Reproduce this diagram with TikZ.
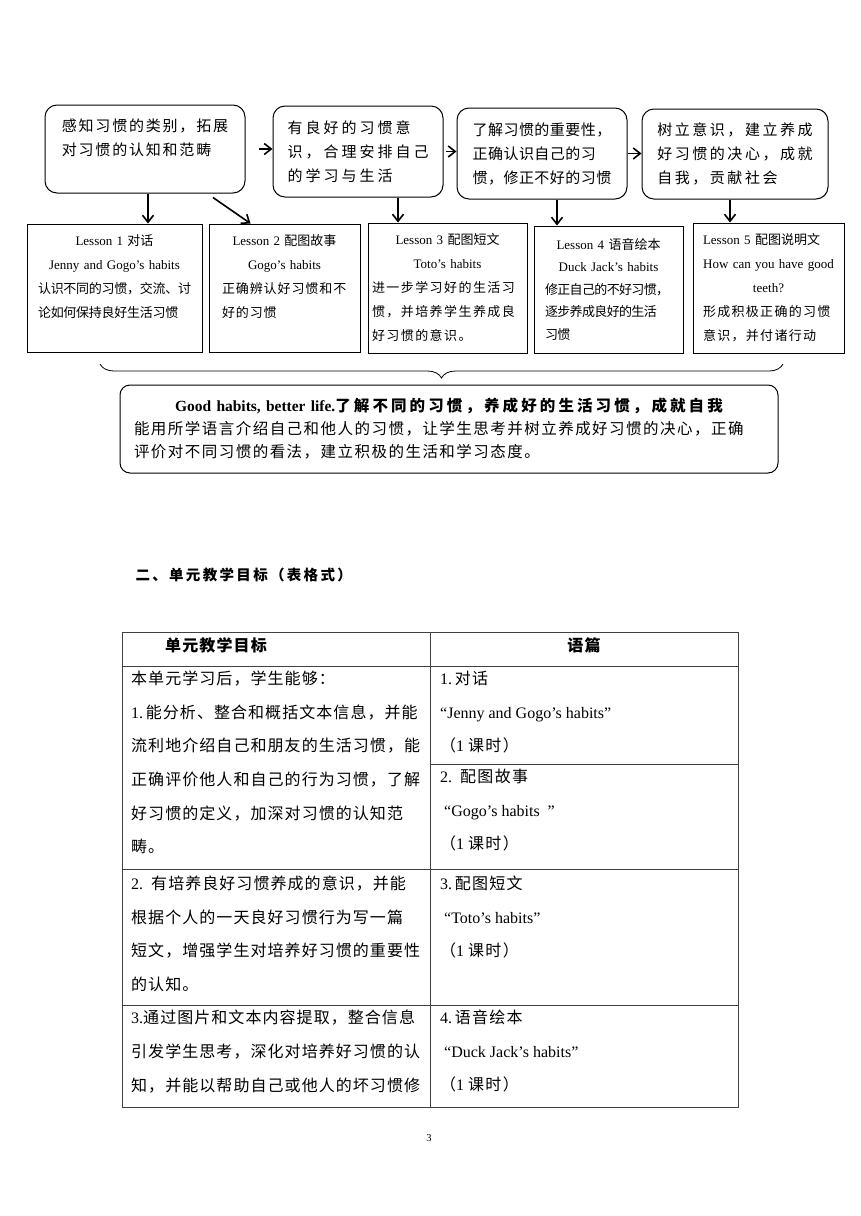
\documentclass[tikz,border=0pt]{standalone}
\usepackage{fontspec}
\setmainfont{Liberation Serif}
\newfontfamily\cjk{Noto Sans CJK SC}
\usetikzlibrary{arrows.meta, positioning, decorations.pathreplacing}

% chinese text, optional letter spacing
\newcommand{\zh}[2][0]{{\cjk\addfontfeatures{LetterSpace=#1}#2}}
\newcommand{\ctr}[1]{\hfill#1\hfill\mbox{}}

\begin{document}
\begin{tikzpicture}[x=1pt, y=-1pt,
        goal/.style={draw, line width=1pt, rounded corners=12pt, align=left, font=\fontsize{15}{24}\selectfont},
        lesson/.style={draw, line width=1pt, align=left, inner ysep=0pt, minimum height=128pt, font=\fontsize{13}{24}\selectfont},
        arr/.style={-{Straight Barb[length=7pt,width=11pt]}, line width=1.6pt},
        tabcell/.style={anchor=north west, inner sep=0pt, align=left, font=\fontsize{16}{33.6}\selectfont},
        tabline/.style={draw=black!75, line width=0.9pt}
    ]
    \useasboundingbox (0,0) rectangle (860,1216);

    % steps of the unit
    \node[goal, minimum width=200pt, minimum height=88pt] (goalA) at (145,149)
        {\zh[12]{感知习惯的类别，拓展}\\\zh[12]{对习惯的认知和范畴}\\\mbox{}};
    \node[goal, minimum width=170pt, minimum height=91pt, right=27pt of goalA, yshift=-2.5pt] (goalB)
        {\zh[20]{有良好的习惯意}\\\zh[20]{识，合理安排自己}\\\zh[20]{的学习与生活}};
    \node[goal, minimum width=170pt, minimum height=91pt, right=13pt of goalB, yshift=-2pt] (goalC)
        {\zh[3]{了解习惯的重要性，}\\\zh[3]{正确认识自己的习}\\\zh[3]{惯，修正不好的习惯}};
    \node[goal, minimum width=186pt, minimum height=90pt, right=14pt of goalC, yshift=-0.5pt] (goalD)
        {\zh[17]{树立意识，建立养成}\\\zh[17]{好习惯的决心，成就}\\\zh[17]{自我，贡献社会}};

    \draw[arr, shorten <=13pt] (goalA.east) -- (goalA.east -| goalB.west);
    \draw[arr, shorten <=2pt] (goalB.east) -- (goalB.east -| goalC.west);
    \draw[arr] (goalC.east) -- (goalC.east -| goalD.west);

    % lessons
    \node[lesson, inner xsep=11pt, text width=153pt] (les1) at (114.5,288)
        {\ctr{Lesson 1 \zh{对话}}\\\ctr{Jenny and Gogo’s habits}\\\zh[-2]{认识不同的习惯，交流、讨}\\\zh[-2]{论如何保持良好生活习惯}\\\mbox{}};
    \node[lesson, inner xsep=13pt, text width=125pt, right=6pt of les1] (les2)
        {\ctr{Lesson 2 \zh{配图故事}}\\\ctr{Gogo’s habits}\\\zh[7]{正确辨认好习惯和不}\\\zh[7]{好的习惯}\\\mbox{}};
    \node[lesson, inner xsep=4pt, text width=151pt, minimum height=130pt, right=7pt of les2] (les3)
        {\ctr{Lesson 3 \zh{配图短文}}\\\ctr{Toto’s habits}\\\zh[11]{进一步学习好的生活习}\\\zh[11]{惯，并培养学生养成良}\\\zh[11]{好习惯的意识。}};
    \node[lesson, inner xsep=11pt, text width=127pt, minimum height=127pt, right=6pt of les3, yshift=-1.5pt,
          font=\fontsize{13}{22.5}\selectfont] (les4)
        {\ctr{Lesson 4 \zh{语音绘本}}\\\ctr{Duck Jack’s habits}\\\zh[-5]{修正自己的不好习惯，}\\\zh[-5]{逐步养成良好的生活}\\\zh[-5]{习惯}};
    \node[lesson, inner xsep=10pt, text width=131pt, minimum height=130pt, right=9pt of les4, yshift=1.5pt] (les5)
        {Lesson 5 \zh{配图说明文}\\\ctr{How can you have good}\\\ctr{teeth?}\\\zh[10]{形成积极正确的习惯}\\\zh[10]{意识，并付诸行动}};

    \coordinate (a1) at ([xshift=3pt]goalA.south);
    \coordinate (b1) at ([xshift=40pt]goalB.south);
    \coordinate (c1) at ([xshift=15pt]goalC.south);
    \coordinate (d1) at ([xshift=-5pt]goalD.south);
    \draw[arr] (a1) -- (a1 |- les1.north);
    \draw[arr] ([xshift=68pt,yshift=-4pt]goalA.south) -- ([xshift=-34pt]les2.north);
    \draw[arr] (b1) -- (b1 |- les3.north);
    \draw[arr] (c1) -- (c1 |- les4.north);
    \draw[arr] (d1) -- (d1 |- les5.north);

    % brace and summary
    \draw[line width=0.8pt, decorate, decoration={brace, amplitude=14pt}] (783,364) -- (100,364);
    \node[draw, line width=1pt, rounded corners=10pt, minimum width=658pt, minimum height=88pt,
          inner xsep=14pt, text width=630pt, align=left, font=\fontsize{15.5}{23}\selectfont] (summary) at (449,429)
        {\ctr{\textbf{Good habits, better life.}{\bfseries\zh[20]{了解不同的习惯，养成好的生活习惯，成就自我}}}\\
         \zh[9.5]{能用所学语言介绍自己和他人的习惯，让学生思考并树立养成好习惯的决心，正确}\\
         \zh[9.5]{评价对不同习惯的看法，建立积极的生活和学习态度。}};

    % heading
    \node[anchor=west, font=\fontsize{14.5}{17}\selectfont] (unitgoals) at (132,575)
        {\bfseries\zh[16]{二、单元教学目标（表格式）}};

    % table
    \draw[tabline] (122,632) rectangle (738,1107);
    \draw[tabline] (430,632) -- (430,1107);
    \foreach \y in {666,869,1005}
        \draw[tabline] (122,\y) -- (738,\y);
    \draw[tabline] (430,764) -- (738,764);

    \node[font=\fontsize{16}{20}\selectfont] (hdgoal) at (216,645) {\bfseries\zh[7]{单元教学目标}};
    \node[font=\fontsize{16}{20}\selectfont] (hdtext) at (584,645) {\bfseries\zh[7]{语篇}};

    \node[tabcell] (goalrow1) at (131,671)
        {\zh[6.6]{本单元学习后，学生能够：}\\
         1.\,\zh[6.6]{能分析、整合和概括文本信息，并能}\\
         \zh[6.6]{流利地介绍自己和朋友的生活习惯，能}\\
         \zh[6.6]{正确评价他人和自己的行为习惯，了解}\\
         \zh[6.6]{好习惯的定义，加深对习惯的认知范}\\
         \zh[6.6]{畴。}};
    \node[tabcell] (goalrow2) at (131,876)
        {2.\ \ \zh[6.6]{有培养良好习惯养成的意识，并能}\\
         \zh[6.6]{根据个人的一天良好习惯行为写一篇}\\
         \zh[6.6]{短文，增强学生对培养好习惯的重要性}\\
         \zh[6.6]{的认知。}};
    \node[tabcell] (goalrow3) at (131,1010)
        {3.\zh[6.6]{通过图片和文本内容提取，整合信息}\\
         \zh[6.6]{引发学生思考，深化对培养好习惯的认}\\
         \zh[6.6]{知，并能以帮助自己或他人的坏习惯修}};

    \node[tabcell] (text1) at (440,671)
        {1.\,\zh[8]{对话}\\“Jenny and Gogo’s habits”\\\zh{（}1 \zh[8]{课时）}};
    \node[tabcell] (text2) at (440,769)
        {2.\ \ \zh[8]{配图故事}\\\ “Gogo’s habits \ ”\\\zh{（}1 \zh[8]{课时）}};
    \node[tabcell] (text3) at (440,876)
        {3.\,\zh[8]{配图短文}\\\ “Toto’s habits”\\\zh{（}1 \zh[8]{课时）}};
    \node[tabcell] (text4) at (440,1010)
        {4.\,\zh[8]{语音绘本}\\\ “Duck Jack’s habits”\\\zh{（}1 \zh[8]{课时）}};

    \node[font=\fontsize{10.5}{12}\selectfont] (pageno) at (429,1138) {3};
\end{tikzpicture}
\end{document}
